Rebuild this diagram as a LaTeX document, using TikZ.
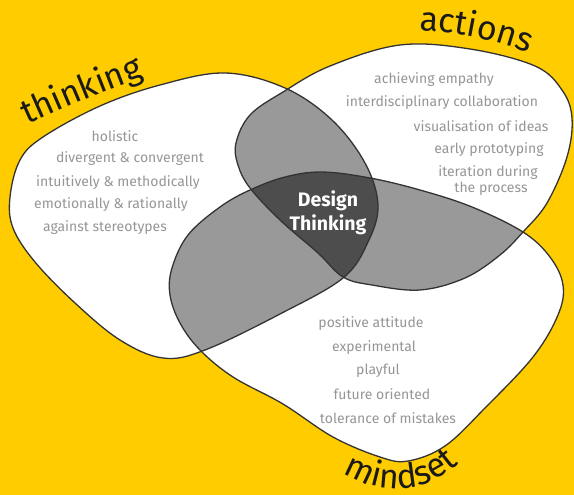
\documentclass[tikz,border=0pt]{standalone}
\usepackage{fontspec}
\setmainfont{Fira Sans}
\usetikzlibrary{decorations.text}
\definecolor{dtyellow}{RGB}{255,204,0}
\definecolor{dtgrey}{RGB}{153,153,153}
\definecolor{dtdark}{RGB}{77,77,77}
\definecolor{dtline}{RGB}{51,51,51}
\definecolor{dtitem}{RGB}{150,150,150}
\definecolor{dtink}{RGB}{26,26,26}
% the three blobs
\newcommand\thinkingblob{plot[smooth cycle, tension=0.6] coordinates {(10,197) (20,160) (43,137) (100,106) (160,85) (225,73) (285,88) (332,120) (365,163) (378,205) (368,242) (343,278) (280,314) (205,350) (163,358) (120,340) (75,303) (35,262) (13,228)}}
\newcommand\actionsblob{plot[smooth cycle, tension=0.6] coordinates {(236,143) (250,115) (283,92) (330,66) (400,45) (470,49) (535,66) (562,90) (572,118) (567,157) (547,203) (523,232) (500,255) (465,278) (420,290) (372,285) (343,277) (318,253) (280,220) (250,188) (238,165)}}
\newcommand\mindsetblob{plot[smooth cycle, tension=0.6] coordinates {(172,268) (188,235) (220,207) (250,190) (285,177) (322,172) (370,178) (420,190) (472,207) (523,232) (550,257) (563,285) (558,315) (533,357) (485,408) (445,446) (408,461) (380,457) (333,437) (283,404) (233,377) (200,350) (180,323) (170,295)}}
\newcommand\titlefont{\fontsize{34}{34}\selectfont}
\begin{document}
\begin{tikzpicture}[x=1pt, y=-1pt,
    item/.style={text=dtitem, font=\fontsize{14}{16}\selectfont, inner sep=0pt},
    core/.style={text=white, align=center, font=\fontsize{19.5}{24}\selectfont\bfseries, inner sep=0pt},
    outline/.style={draw=dtline, line width=1.3pt},
    title/.style={decorate, decoration={text along path, text align=center, text color=dtink, text={|\titlefont|#1}}}]
  \fill[dtyellow] (0,0) rectangle (574,495);
  \useasboundingbox (0,0) rectangle (574,495);
  % white first, then the overlaps
  \fill[white] \thinkingblob;
  \fill[white] \actionsblob;
  \fill[white] \mindsetblob;
  \begin{scope}
    \clip \thinkingblob;
    \fill[dtgrey] \actionsblob;
    \fill[dtgrey] \mindsetblob;
  \end{scope}
  \begin{scope}
    \clip \actionsblob;
    \fill[dtgrey] \mindsetblob;
  \end{scope}
  \begin{scope}
    \clip \thinkingblob;
    \clip \actionsblob;
    \fill[dtdark] \mindsetblob;
  \end{scope}
  \draw[outline] \thinkingblob;
  \draw[outline] \actionsblob;
  \draw[outline] \mindsetblob;
  % titles
  \path[title=thinking] (16,130) .. controls (60,110) and (105,90) .. (156,73);
  \path[title=actions] (410,30) .. controls (450,31) and (495,38) .. (537,57);
  \path[title=mindset] (333,465) .. controls (375,499) and (430,497) .. (468,455);
  \node[core] (dt) at (328,213) {Design\\Thinking};
  % thinking
  \node[item] (t1) at (115,136) {holistic};
  \node[item] (t2) at (130,159) {divergent \& convergent};
  \node[item] (t3) at (118,183) {intuitively \& methodically};
  \node[item] (t4) at (111,205) {emotionally \& rationally};
  \node[item] (t5) at (105,228) {against stereotypes};
  % actions
  \node[item] (a1) at (434,80) {achieving empathy};
  \node[item] (a2) at (442,103) {interdisciplinary collaboration};
  \node[item] (a3) at (481,126) {visualisation of ideas};
  \node[item] (a4) at (489,150) {early prototyping};
  \node[item] (a5) at (488,173) {iteration during};
  \node[item] (a6) at (491,189) {the process};
  % mindset
  \node[item] (m1) at (371,324) {positive attitude};
  \node[item] (m2) at (374,348) {experimental};
  \node[item] (m3) at (378,371) {playful};
  \node[item] (m4) at (382,394) {future oriented};
  \node[item] (m5) at (388,418) {tolerance of mistakes};
\end{tikzpicture}
\end{document}
